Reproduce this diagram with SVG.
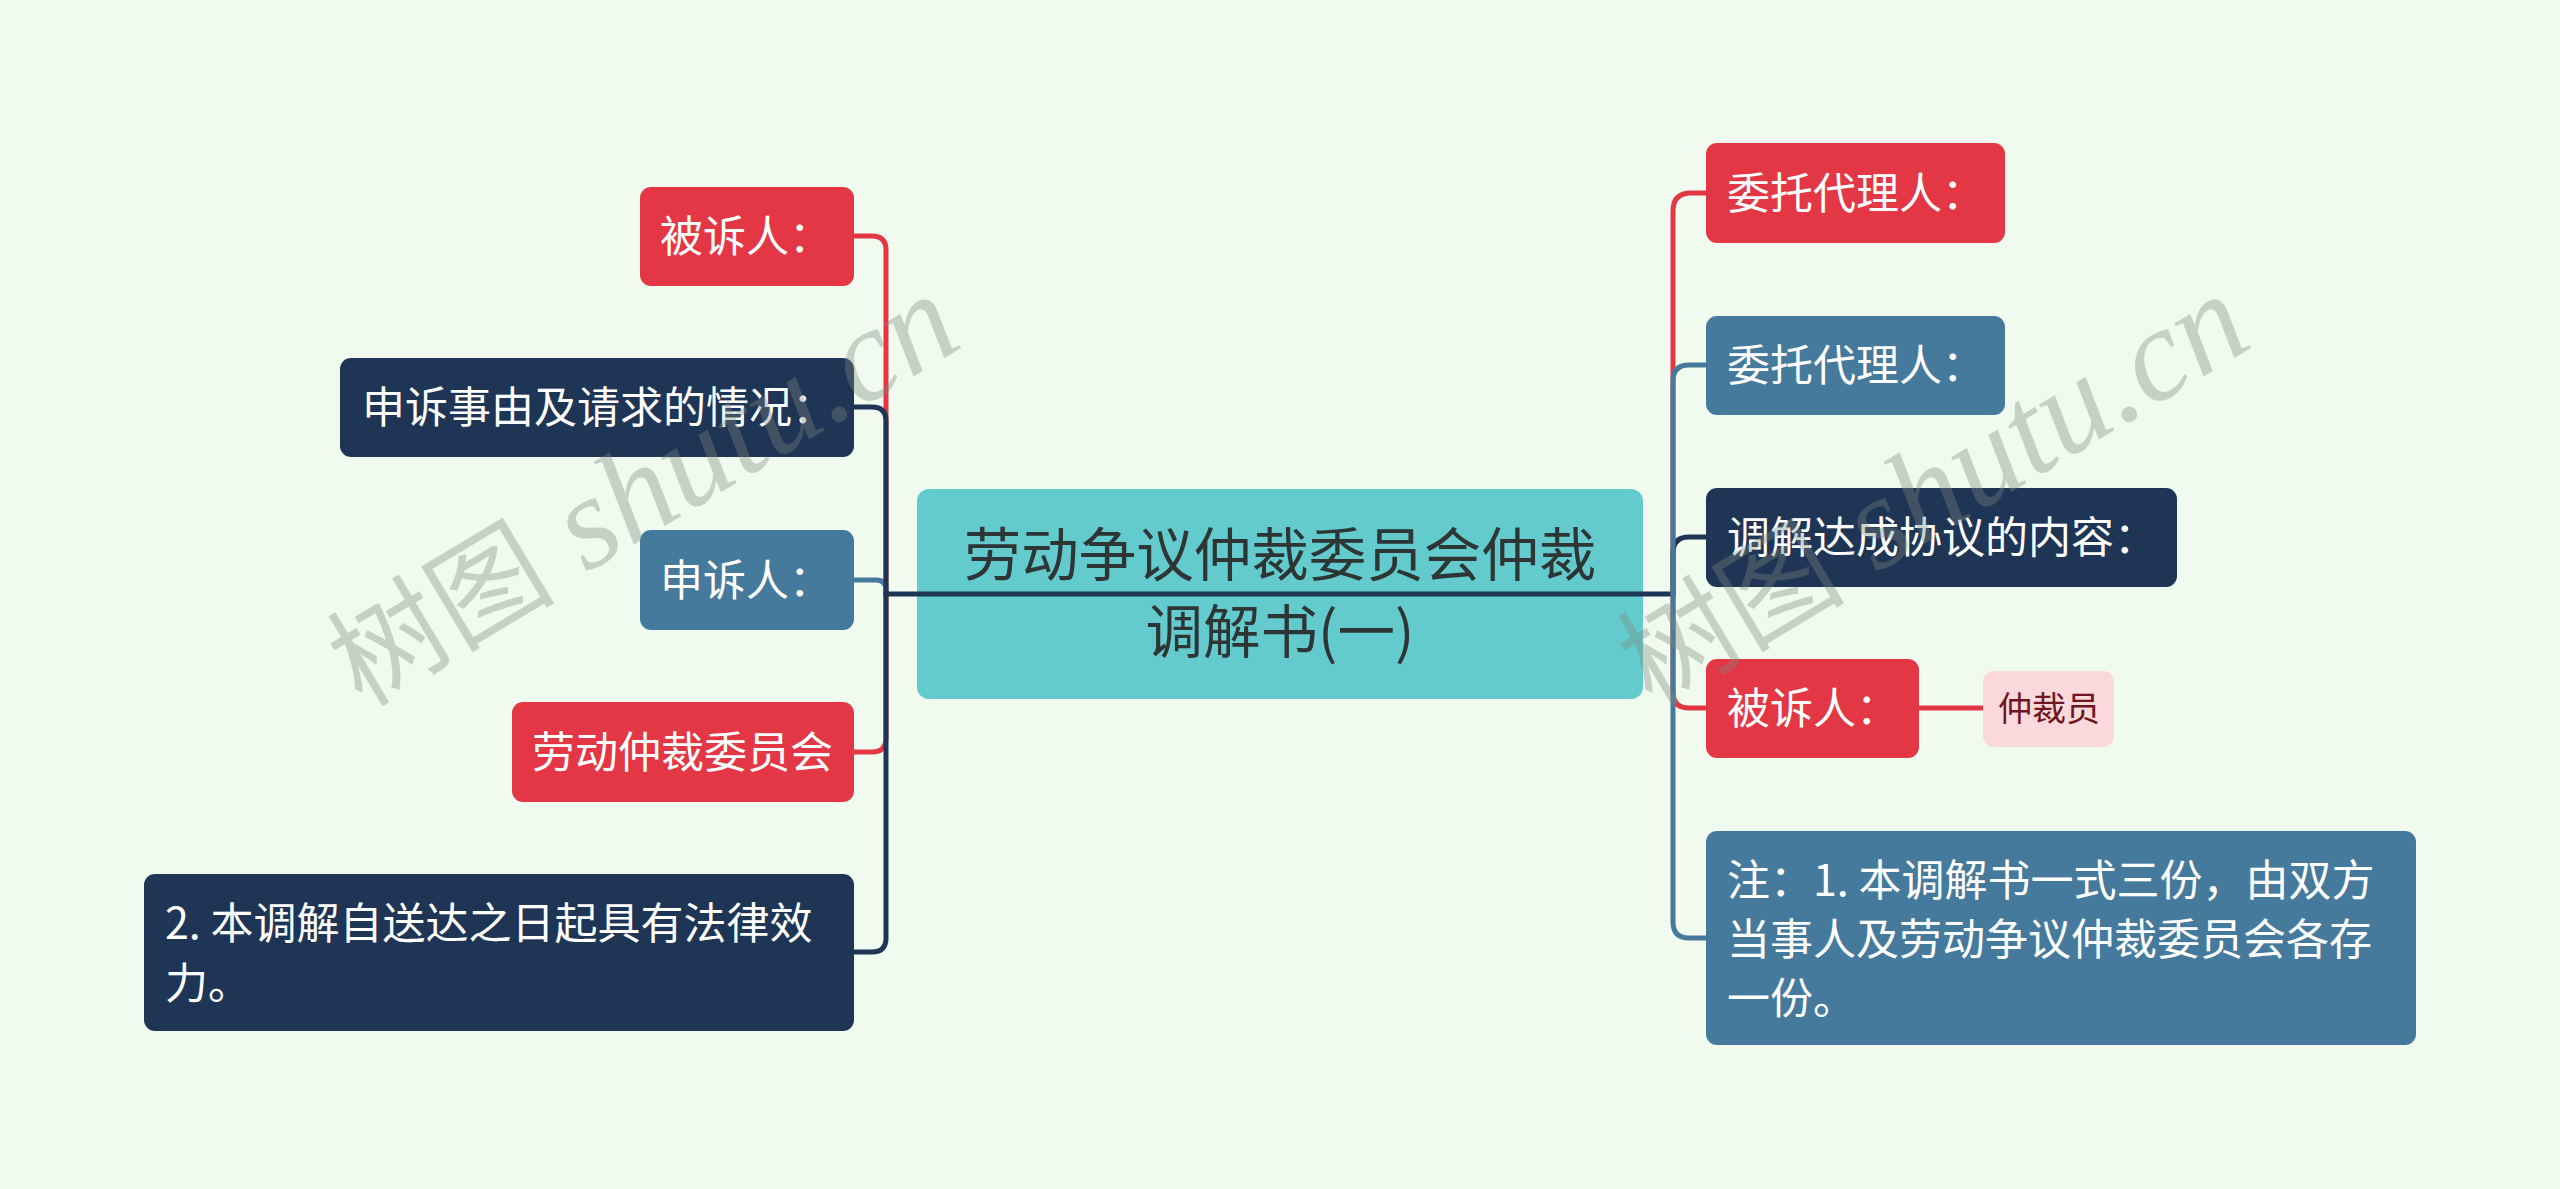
<svg xmlns="http://www.w3.org/2000/svg" width="2560" height="1189" viewBox="0 0 2560 1189">
<style>
.bg{fill:#F0FAEF}
.red{fill:#E43745}
.navy{fill:#1E3556}
.blue{fill:#467A9C}
.teal{fill:#63CBCE}
.pink{fill:#FAD8DC}
.t{font-family:"Noto Sans CJK SC","Noto Sans",sans-serif;font-size:43px;fill:#FFFFFF}
.tc{font-family:"Noto Sans CJK SC","Noto Sans",sans-serif;font-size:57.5px;fill:#2E3535;text-anchor:middle}
.ts{font-family:"Noto Sans CJK SC","Noto Sans",sans-serif;font-size:34px;fill:#6E1620}
.c{fill:none;stroke-width:5;stroke-linecap:round}
.cr{stroke:#E43745}
.cn{stroke:#1E3556}
.cb{stroke:#467A9C}
.wm{font-family:"Liberation Serif","Noto Sans CJK SC",serif;font-style:italic;fill:#7E877E;fill-opacity:0.36}
</style>
<rect class="bg" x="0" y="0" width="2560" height="1189"/>

<g id="center">
<rect class="teal" x="917" y="489" width="726" height="210" rx="12"/>
<text class="tc" x="1280" y="576">劳动争议仲裁委员会仲裁</text>
<text class="tc" x="1280" y="653">调解书(一)</text>
</g>

<g id="connectors">
<path class="c cr" d="M886 594 V250 Q886 236 872 236 H854"/>
<path class="c cr" d="M886 594 V738 Q886 752 872 752 H854"/>
<path class="c cb" d="M886 594 V590 Q886 580 876 580 H854"/>
<path class="c cn" d="M886 594 V421 Q886 407 872 407 H854"/>
<path class="c cn" d="M886 594 V938 Q886 952 872 952 H854"/>
<path class="c cn" d="M886 594 H1673"/>
<path class="c cr" d="M1673 594 V211 Q1673 193 1691 193 H1706"/>
<path class="c cr" d="M1673 594 V692 Q1673 708 1689 708 H1706"/>
<path class="c cr" d="M1919 708 H1983"/>
<path class="c cn" d="M1673 594 V553 Q1673 537 1689 537 H1706"/>
<path class="c cb" d="M1673 594 V381 Q1673 365 1689 365 H1706"/>
<path class="c cb" d="M1673 594 V922 Q1673 938 1689 938 H1706"/>
</g>

<g id="n-beisuren-l">
<rect class="red" x="640" y="187" width="214" height="99" rx="11"/>
<text class="t" x="660" y="252">被诉人：</text>
</g>
<g id="n-shensu-shiyou">
<rect class="navy" x="340" y="358" width="514" height="99" rx="11"/>
<text class="t" x="362" y="423">申诉事由及请求的情况：</text>
</g>
<g id="n-shensuren">
<rect class="blue" x="640" y="530" width="214" height="100" rx="11"/>
<text class="t" x="660" y="596">申诉人：</text>
</g>
<g id="n-laodong-weiyuanhui">
<rect class="red" x="512" y="702" width="342" height="100" rx="11"/>
<text class="t" x="532" y="768">劳动仲裁委员会</text>
</g>
<g id="n-tiaojie-xiaoli">
<rect class="navy" x="144" y="874" width="710" height="157" rx="11"/>
<text class="t" x="165" y="939">2. 本调解自送达之日起具有法律效</text>
<text class="t" x="165" y="999">力。</text>
</g>

<g id="n-weituo-red">
<rect class="red" x="1706" y="143" width="299" height="100" rx="11"/>
<text class="t" x="1727" y="209">委托代理人：</text>
</g>
<g id="n-weituo-blue">
<rect class="blue" x="1706" y="316" width="299" height="99" rx="11"/>
<text class="t" x="1727" y="381">委托代理人：</text>
</g>
<g id="n-tiaojie-neirong">
<rect class="navy" x="1706" y="488" width="471" height="99" rx="11"/>
<text class="t" x="1727" y="553">调解达成协议的内容：</text>
</g>
<g id="n-beisuren-r">
<rect class="red" x="1706" y="659" width="213" height="99" rx="11"/>
<text class="t" x="1727" y="724">被诉人：</text>
</g>
<g id="n-zhongcaiyuan">
<rect class="pink" x="1983" y="671" width="131" height="76" rx="11"/>
<text class="ts" x="1998" y="721">仲裁员</text>
</g>
<g id="n-zhu">
<rect class="blue" x="1706" y="831" width="710" height="214" rx="11"/>
<text class="t" x="1727" y="896">注：1. 本调解书一式三份，由双方</text>
<text class="t" x="1727" y="955">当事人及劳动争议仲裁委员会各存</text>
<text class="t" x="1727" y="1014">一份。</text>
</g>

<g id="watermarks">
<text class="wm" transform="translate(362,708) rotate(-31)"><tspan font-size="114" font-family="Noto Sans CJK SC, sans-serif" font-style="normal">树图</tspan><tspan font-size="132"> shutu.cn</tspan></text>
<text class="wm" transform="translate(1652,708) rotate(-31)"><tspan font-size="114" font-family="Noto Sans CJK SC, sans-serif" font-style="normal">树图</tspan><tspan font-size="132"> shutu.cn</tspan></text>
</g>
</svg>
